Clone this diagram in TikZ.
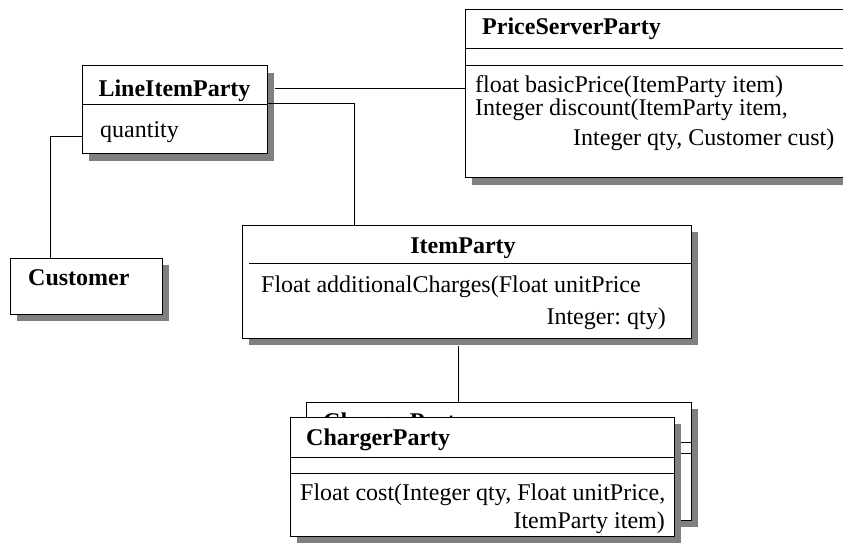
\documentclass[tikz,border=0pt]{standalone}
\usepackage{fontspec}
\setmainfont{Liberation Serif}
\usetikzlibrary{shadows}
\frenchspacing
\begin{document}
\begin{tikzpicture}[x=1pt,y=-1pt,
  box/.style={draw=black, line width=1pt, fill=white, rectangle, inner sep=0pt,
    drop shadow={shadow xshift=7pt, shadow yshift=-7pt, fill=black!50, opacity=1}},
  sep/.style={line width=1pt},
  conn/.style={line width=1pt},
  txt/.style={inner sep=0pt, font=\fontsize{24}{28}\selectfont},
  ttl/.style={inner sep=0pt, font=\fontsize{24}{28}\selectfont\bfseries}]
\clip (0,0) rectangle (843,548);
\fill[white] (0,0) rectangle (843,548);

% LineItemParty
\node[box, minimum width=185pt, minimum height=88pt] (lip) at (174.5,110) {};
\draw[sep] (lip.west |- 0,105) -- (lip.east |- 0,105);
\node[ttl, anchor=base] (liptitle) at (174.5,97) {LineItemParty};
\node[txt, anchor=base west] (lipattr) at (100,138) {quantity};

% PriceServerParty
\node[box, minimum width=405pt, minimum height=168pt] (psp) at (667.5,94) {};
\draw[sep] (psp.west |- 0,49) -- (psp.east |- 0,49);
\draw[sep] (psp.west |- 0,66) -- (psp.east |- 0,66);
\node[ttl, anchor=base west] (psptitle) at (482,35) {PriceServerParty};
\node[txt, anchor=base west] (pspm1) at (475,93) {float basicPrice(ItemParty item)};
\node[txt, anchor=base west] (pspm2) at (475,116) {Integer discount(ItemParty item,};
\node[txt, anchor=base west] (pspm3) at (573,146) {Integer qty, Customer cust)};

% Customer
\node[box, minimum width=152pt, minimum height=56pt] (cust) at (86,286) {};
\node[ttl, anchor=base west] (custtitle) at (28,285) {Customer};

% ItemParty
\node[box, minimum width=449pt, minimum height=113pt] (ip) at (466.5,281.5) {};
\draw[sep] (249,263) -- (ip.east |- 0,263);
\node[ttl, anchor=base] (iptitle) at (463,253) {ItemParty};
\node[txt, anchor=base west] (ipm1) at (261,292) {Float additionalCharges(Float unitPrice};
\node[txt, anchor=base east] (ipm2) at (666,324) {Integer: qty)};

% ChargerParty (back)
\node[box, minimum width=385pt, minimum height=118pt] (cpb) at (498.5,461) {};
\node[ttl, anchor=base west] (cpbtitle) at (323,429) {ChargerParty};
\draw[sep] (cpb.west |- 0,442) -- (cpb.east |- 0,442);
\draw[sep] (cpb.west |- 0,453) -- (cpb.east |- 0,453);

% ChargerParty (front)
\node[box, minimum width=384pt, minimum height=119pt] (cpf) at (482,476.5) {};
\draw[sep] (cpf.west |- 0,457) -- (cpf.east |- 0,457);
\draw[sep] (cpf.west |- 0,473) -- (cpf.east |- 0,473);
\node[ttl, anchor=base west] (cpftitle) at (306,445) {ChargerParty};
\node[txt, anchor=base west] (cpfm1) at (300,500) {Float cost(Integer qty, Float unitPrice,};
\node[txt, anchor=base east] (cpfm2) at (665,528) {ItemParty item)};

% connectors
\draw[conn] ([shift={(7pt,21pt)}]lip.east) -- ([yshift=21pt]lip.east -| psp.west);
\draw[conn] ([yshift=6pt]lip.east) -| ([xshift=-112.5pt]ip.north);
\draw[conn] ([yshift=-27pt]lip.west) -| ([xshift=-36pt]cust.north);
\draw[conn] ([shift={(-8.5pt,-7pt)}]ip.south) -- ([xshift=-8.5pt]ip.south |- cpb.north);
\end{tikzpicture}
\end{document}
